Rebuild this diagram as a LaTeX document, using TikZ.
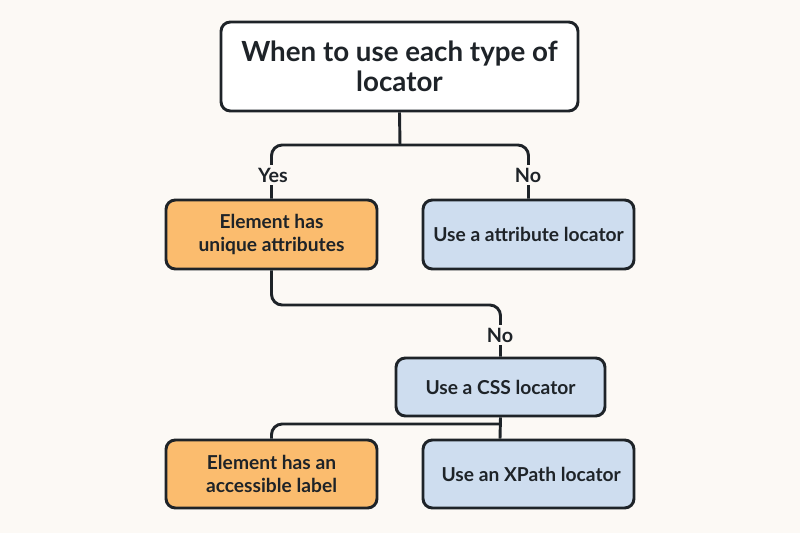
\documentclass[tikz,border=0pt]{standalone}
\usepackage{fontspec}
\setmainfont{Lato}
\definecolor{bgc}{HTML}{FCF9F5}
\definecolor{ink}{HTML}{1E2328}
\definecolor{orangec}{HTML}{FBBC6E}
\definecolor{bluec}{HTML}{CEDDEF}
\begin{document}
\begin{tikzpicture}[x=0.75pt,y=-0.75pt,
  box/.style={draw=ink, line width=2.2pt, rounded corners=7pt, align=center, text=ink,
    font=\bfseries\fontsize{14.4}{17}\selectfont, inner sep=0pt},
  titlebox/.style={box, fill=white, font=\bfseries\fontsize{20.8}{22.8}\selectfont,
    minimum width=357*0.75pt, minimum height=89*0.75pt},
  obox/.style={box, fill=orangec, minimum width=211*0.75pt, minimum height=69*0.75pt},
  bbox/.style={box, fill=bluec, minimum width=211*0.75pt, minimum height=69*0.75pt},
  conn/.style={draw=ink, line width=2.2pt, rounded corners=8pt},
  lab/.style={fill=bgc, text=ink, font=\bfseries\fontsize{14.8}{17}\selectfont, inner sep=2pt}
]
\fill[bgc] (0,0) rectangle (800,533);
\node[titlebox] (title) at (399.5,66.5) {When to use each type of\\locator};
\node[obox] (o1) at (271.5,234.5) {Element has\\unique attributes};
\node[bbox] (b1) at (528.5,234.5) {Use a attribute locator};
\node[bbox, minimum width=209*0.75pt, minimum height=58*0.75pt] (css) at (500.5,387) {Use a CSS locator};
\node[obox, minimum height=68*0.75pt] (o2) at (271.5,474) {Element has an\\accessible label};
\node[bbox, minimum height=68*0.75pt] (x2) at (528.5,474) {\hspace*{4pt}Use an XPath locator};
\coordinate (j1) at (400,145);
\coordinate (j2) at (400,305);
\coordinate (j3) at (500,424);
\draw[conn] (title.south) -- (j1);
\draw[conn] (o1.north) |- (j1) -| (b1.north);
\draw[conn] (o1.south) |- (j2) -| (css.north);
\draw[conn] (css.south) -- (j3 |- x2.north);
\draw[conn] (j3) -| (o2.north);
\node[lab] (yes) at (273,175) {Yes};
\node[lab] (no1) at (528,175) {No};
\node[lab] (no2) at (500,335) {No};
\end{tikzpicture}
\end{document}
